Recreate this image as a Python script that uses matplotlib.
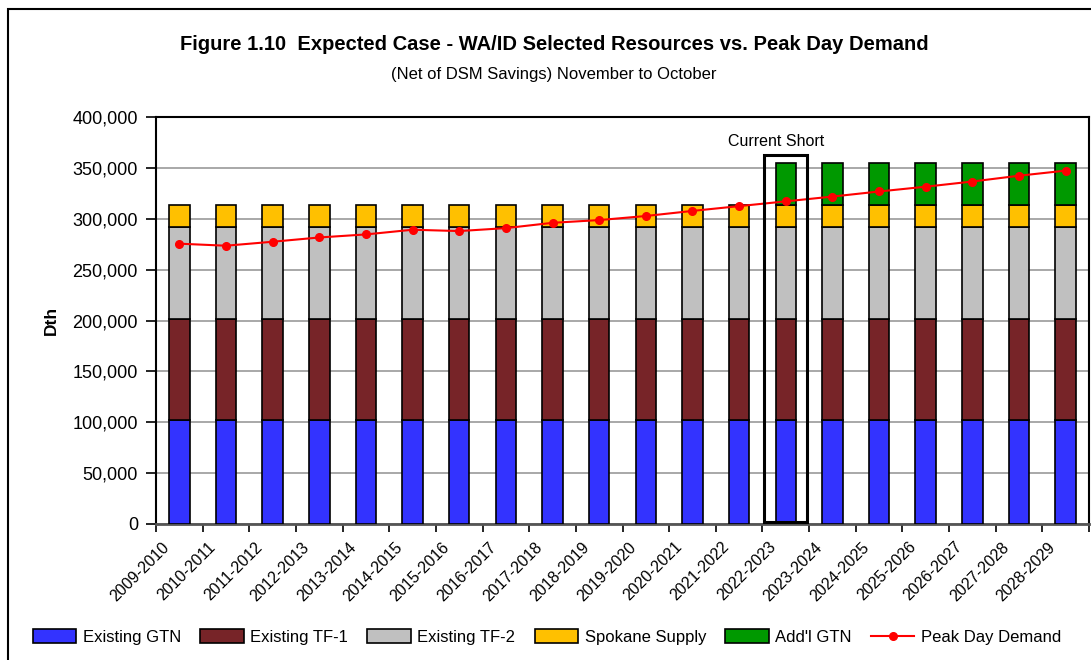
import matplotlib
matplotlib.use("Agg")
import matplotlib.pyplot as plt
from matplotlib.patches import Rectangle
from matplotlib.ticker import FuncFormatter, MultipleLocator
import numpy as np

plt.rcParams['font.family'] = ['Liberation Sans', 'DejaVu Sans']

years = ["2009-2010", "2010-2011", "2011-2012", "2012-2013", "2013-2014", "2014-2015",
         "2015-2016", "2016-2017", "2017-2018", "2018-2019", "2019-2020", "2020-2021",
         "2021-2022", "2022-2023", "2023-2024", "2024-2025", "2025-2026", "2026-2027",
         "2027-2028", "2028-2029"]
existing_gtn = [102000] * 20
existing_tf1 = [99000] * 20
existing_tf2 = [91000] * 20
spokane_supply = [22000] * 20
addl_gtn = [0] * 13 + [41000] * 7
peak_demand = [275500, 273500, 277400, 281600, 284600, 289200, 287900, 290800, 296000, 298700,
               302700, 307700, 312400, 317100, 321800, 326800, 331500, 336600, 342300, 347300]

fig = plt.figure(figsize=(10.91, 6.6), dpi=100)
ax = fig.add_axes([156/1091, 1 - 524/660, (1089 - 156)/1091, (524 - 117)/660])

# outer frame
fig.patches.append(Rectangle((8/1091, -0.01), 1.2, 1 - 9/660 + 0.01, transform=fig.transFigure,
                             fill=False, edgecolor='black', linewidth=1.5))

x = np.arange(len(years)) + 0.5
w = 0.44
series = [
    (existing_gtn, '#3333FF', 'Existing GTN'),
    (existing_tf1, '#772428', 'Existing TF-1'),
    (existing_tf2, '#C0C0C0', 'Existing TF-2'),
    (spokane_supply, '#FFC000', 'Spokane Supply'),
    (addl_gtn, '#009900', "Add'l GTN"),
]
bottom = np.zeros(len(years))
handles = []
for vals, col, lab in series:
    v = np.array(vals, dtype=float)
    mask = v > 0
    b = ax.bar(x[mask], v[mask], w, bottom=bottom[mask], color=col, edgecolor='black',
               linewidth=1.2, label=lab, zorder=3)
    handles.append(b)
    bottom += v

ln, = ax.plot(x, peak_demand, color='#FF0000', marker='o', markersize=5.5, linewidth=1.5,
              label='Peak Day Demand', zorder=5)
handles.append(ln)

# current short box
i = 13
ax.add_patch(Rectangle((x[i] - 0.46, 2000), 0.92, 361000, fill=False, edgecolor='black',
                       linewidth=2.2, zorder=6, clip_on=False))
ax.text(x[i] - 0.2, 369000, 'Current Short', ha='center', va='bottom', fontsize=11.5)

ax.set_xlim(0, len(years))
ax.set_ylim(0, 400000)
ax.yaxis.set_major_locator(MultipleLocator(50000))
ax.yaxis.set_major_formatter(FuncFormatter(lambda v, p: f'{int(v):,}'))
ax.grid(axis='y', color='#999999', linewidth=1.2, zorder=0)
ax.set_axisbelow(True)
ax.set_xticks(np.arange(len(years) + 1), minor=False)
ax.set_xticklabels([])
ax.set_xticks(x - 0.38, minor=True)
ax.set_xticklabels(years, minor=True, rotation=45, ha='right', va='top', fontsize=11.5,
                   rotation_mode='anchor')
ax.tick_params(axis='x', which='minor', length=0, pad=11)
ax.tick_params(axis='x', which='major', length=6, direction='out', width=1.2)
ax.tick_params(axis='y', length=7, direction='out', width=1.2, labelsize=13, pad=6)
for s in ['left', 'top', 'right']:
    ax.spines[s].set_linewidth(1.5)
    ax.spines[s].set_color('black')
ax.spines['bottom'].set_linewidth(2)
ax.spines['bottom'].set_color('#555555')

ax.set_ylabel('Dth', fontsize=12.5, fontweight='bold', labelpad=10)

fig.text(554/1091, 1 - 45/660, 'Figure 1.10  Expected Case - WA/ID Selected Resources vs. Peak Day Demand',
         ha='center', va='center', fontsize=14.5, fontweight='bold')
fig.text(554/1091, 1 - 75/660, '(Net of DSM Savings) November to October',
         ha='center', va='center', fontsize=12)

fig.legend(handles=handles, labels=[h.get_label() for h in handles], loc='center',
           bbox_to_anchor=(547/1091, 1 - 637/660), ncol=6, frameon=False, fontsize=12,
           handlelength=2.6, handleheight=0.9, columnspacing=1.15, handletextpad=0.4)

fig.savefig('out.png', dpi=100)
